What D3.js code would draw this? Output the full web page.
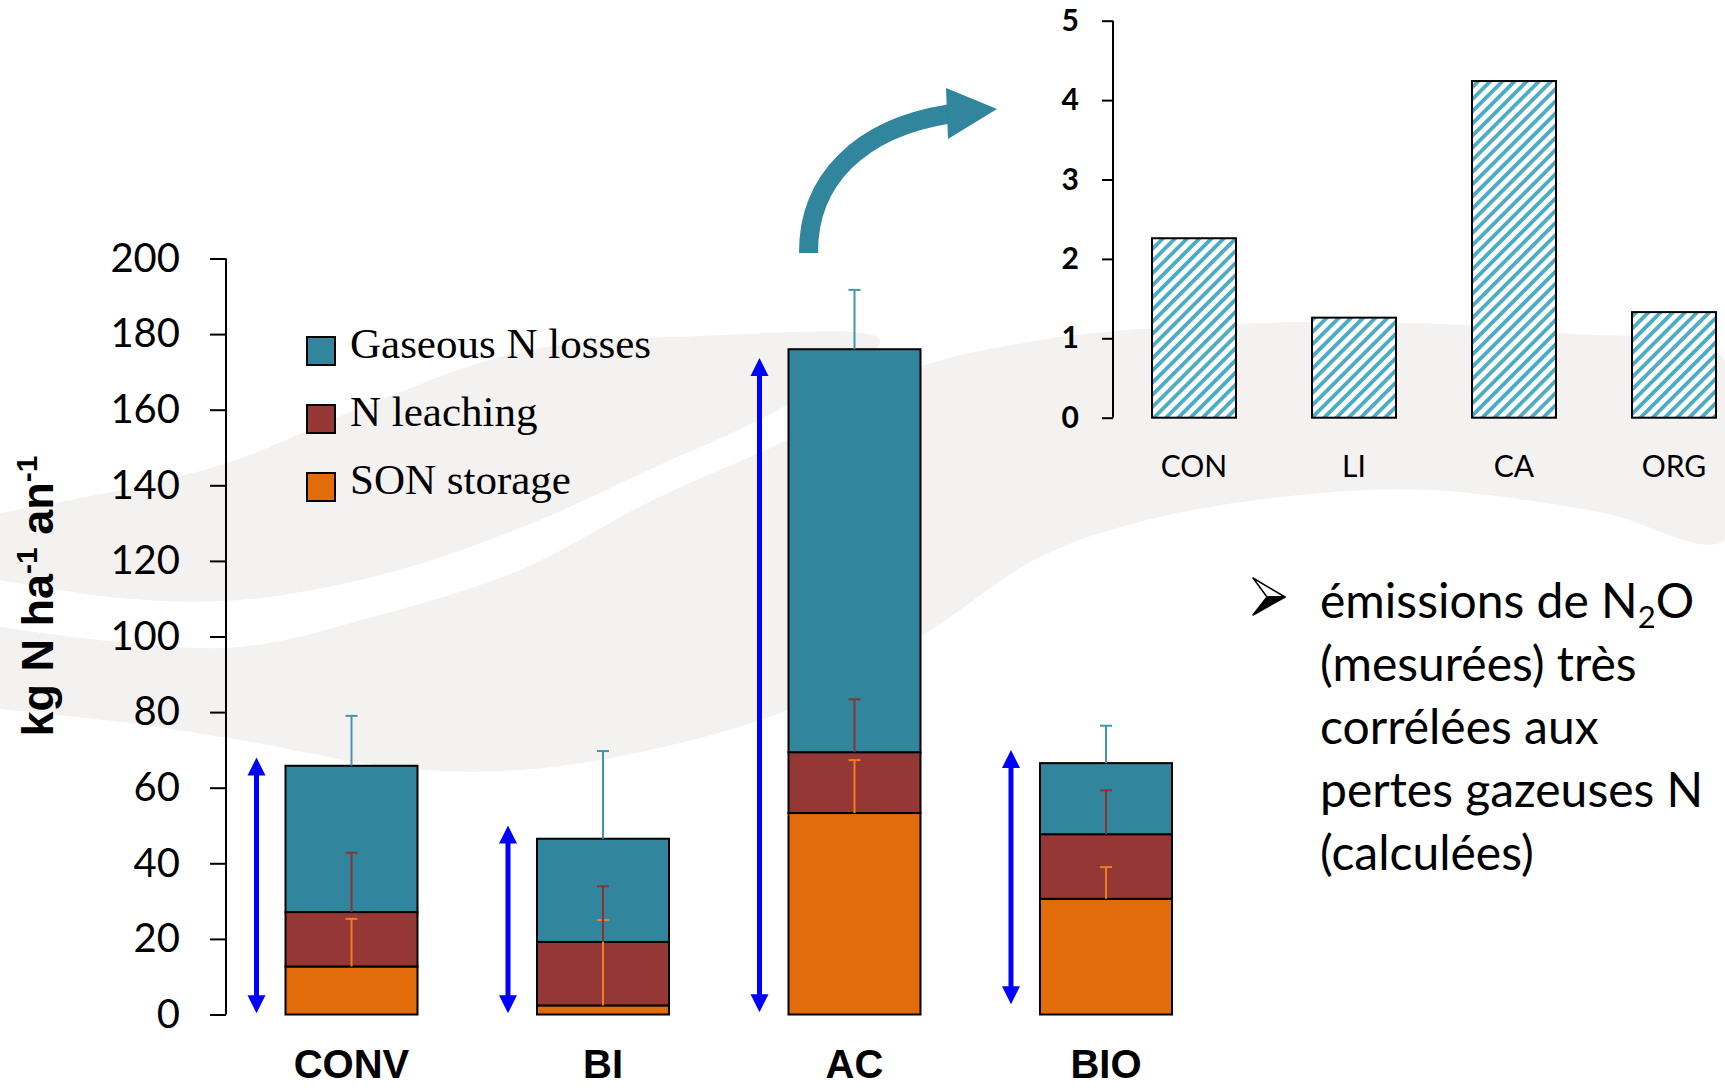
<!DOCTYPE html>
<html>
<head>
<meta charset="utf-8">
<script src="https://cdn.jsdelivr.net/npm/d3@7"></script>
<style>
  body { margin: 0; background: #fff; }
  svg { display: block; }
</style>
</head>
<body>
<script>
// main stacked chart data (kg N / ha / an)
var categories = ["CONV", "BI", "AC", "BIO"];
var seriesNames = ["Gaseous N losses", "N leaching", "SON storage"];
var sonStorage = [12.7, 2.4, 53.3, 30.6];
var nLeaching = [14.4, 16.8, 16.1, 17.1];
var gaseousLosses = [38.7, 27.3, 106.6, 18.8];
var errSon = [12.6, 22.6, 14.0, 8.4];
var errLeaching = [15.7, 14.7, 14.0, 11.6];
var errGaseous = [13.2, 23.2, 15.7, 9.9];
var arrowTop = [68, 50, 173.7, 70];
var arrowBottom = [0.3, 0.3, 0.6, 2.7];
var yTicks = [0, 20, 40, 60, 80, 100, 120, 140, 160, 180, 200];

// inset chart data (N2O)
var insetCategories = ["CON", "LI", "CA", "ORG"];
var n2oValues = [2.26, 1.26, 4.24, 1.33];
var insetTicks = [0, 1, 2, 3, 4, 5];

var noteLines = ["(mesurées) très", "corrélées aux", "pertes gazeuses N", "(calculées)"];

var colors = { gas: "#31859c", leach: "#953735", son: "#e36c0a" };
var errColors = { gas: "#4196ad", leach: "#8a3331", son: "#f07d1e" };

var W = 1725, H = 1088;
var svg = d3.select("body").append("svg")
  .attr("width", W)
  .attr("height", H);

// background swooshes
var bgLine = d3.line().curve(d3.curveCatmullRom.alpha(0.5));
var swooshA = [[0,513],[120,490],[230,462],[380,400],[520,352],[700,336],[880,340],
  [787,405],[653,468],[520,528],[380,575],[240,600],[120,598],[0,580]];
var swooshB = [[0,627],[120,642],[240,647],[380,615],[520,570],[653,500],[787,440],[880,390],
  [920,367],[1040,340],[1173,327],[1373,322],[1560,333],[1725,360],[1725,540],
  [1600,512],[1430,490],[1300,495],[1147,520],[1040,557],[920,637],[787,710],[650,750],
  [520,770],[400,768],[240,740],[120,722],[0,709]];
svg.append("path").attr("d", bgLine(swooshA) + "Z").attr("fill", "#f3f2f0");
svg.append("path").attr("d", bgLine(swooshB) + "Z").attr("fill", "#f3f2f0");

// ---------- main chart ----------
var y = d3.scaleLinear().domain([0, 200]).range([1014.5, 258.5]);
var x = d3.scalePoint().domain(categories).range([351.5, 1106]);
var barW = 132;

var table = categories.map(function (c, i) {
  return { cat: c, son: sonStorage[i], leach: nLeaching[i], gas: gaseousLosses[i],
    errson: errSon[i], errleach: errLeaching[i], errgas: errGaseous[i] };
});
var stack = d3.stack().keys(["son", "leach", "gas"]);
var layers = stack(table);

var g = svg.append("g");
layers.forEach(function (layer) {
  g.selectAll(null)
    .data(layer)
    .enter().append("rect")
    .attr("x", function (d) { return x(d.data.cat) - barW / 2; })
    .attr("y", function (d) { return y(d[1]); })
    .attr("width", barW)
    .attr("height", function (d) { return y(d[0]) - y(d[1]); })
    .attr("fill", colors[layer.key])
    .attr("stroke", "#000")
    .attr("stroke-width", 2);
});

// error bars (upper only)
layers.forEach(function (layer) {
  var k = layer.key;
  var eg = g.selectAll(null).data(layer).enter().append("g")
    .attr("stroke", errColors[k]).attr("stroke-width", 2);
  eg.append("line")
    .attr("x1", function (d) { return x(d.data.cat); })
    .attr("x2", function (d) { return x(d.data.cat); })
    .attr("y1", function (d) { return y(d[1]); })
    .attr("y2", function (d) { return y(d[1] + d.data["err" + k]); });
  eg.append("line")
    .attr("x1", function (d) { return x(d.data.cat) - 6; })
    .attr("x2", function (d) { return x(d.data.cat) + 6; })
    .attr("y1", function (d) { return y(d[1] + d.data["err" + k]); })
    .attr("y2", function (d) { return y(d[1] + d.data["err" + k]); });
});

// blue double arrows
var headL = 18, headW = 9;
categories.forEach(function (c, i) {
  var ax = x(c) - 95;
  var yt = y(arrowTop[i]), yb = y(arrowBottom[i]);
  svg.append("line")
    .attr("x1", ax).attr("x2", ax)
    .attr("y1", yt + headL - 1).attr("y2", yb - headL + 1)
    .attr("stroke", "#0000ff").attr("stroke-width", 5);
  svg.append("path")
    .attr("d", "M" + ax + "," + yt + "L" + (ax + headW) + "," + (yt + headL) + "L" + (ax - headW) + "," + (yt + headL) + "Z")
    .attr("fill", "#0000ff");
  svg.append("path")
    .attr("d", "M" + ax + "," + yb + "L" + (ax + headW) + "," + (yb - headL) + "L" + (ax - headW) + "," + (yb - headL) + "Z")
    .attr("fill", "#0000ff");
});

// y axis
var yAxis = svg.append("g")
  .attr("transform", "translate(226,0)")
  .call(d3.axisLeft(y).tickValues(yTicks).tickSize(16).tickPadding(30));
yAxis.select(".domain").attr("stroke", "#000").attr("stroke-width", 2).attr("d", "M0," + y(0) + "V" + y(200));
yAxis.selectAll(".tick line").attr("stroke", "#000").attr("stroke-width", 2);
yAxis.selectAll(".tick text")
  .attr("font-family", "Lato, 'Open Sans', sans-serif")
  .attr("font-size", 40)
  .attr("fill", "#000");

// x category labels
svg.selectAll(null)
  .data(categories)
  .enter().append("text")
  .attr("x", function (d) { return x(d); })
  .attr("y", 1078)
  .attr("text-anchor", "middle")
  .attr("font-family", "'Liberation Sans', Arial, sans-serif")
  .attr("font-weight", "bold")
  .attr("font-size", 40)
  .attr("fill", "#000")
  .text(function (d) { return d; });

// y title
var yt = svg.append("text")
  .attr("transform", "translate(53,596) rotate(-90)")
  .attr("text-anchor", "middle")
  .attr("font-family", "'Liberation Sans', Arial, sans-serif")
  .attr("font-weight", "bold")
  .attr("font-size", 45)
  .attr("fill", "#000");
yt.append("tspan").text("kg N ha");
yt.append("tspan").attr("font-size", 30).attr("baseline-shift", "super").text("-1");
yt.append("tspan").text(" an");
yt.append("tspan").attr("font-size", 30).attr("baseline-shift", "super").text("-1");

// legend
var legKeys = ["gas", "leach", "son"];
var leg = svg.selectAll(null)
  .data(seriesNames)
  .enter().append("g")
  .attr("transform", function (d, i) { return "translate(307," + (337 + i * 68) + ")"; });
leg.append("rect")
  .attr("width", 28).attr("height", 28)
  .attr("fill", function (d, i) { return colors[legKeys[i]]; })
  .attr("stroke", "#000").attr("stroke-width", 2);
leg.append("text")
  .attr("x", 43).attr("y", 21)
  .attr("font-family", "'Liberation Serif', 'Times New Roman', serif")
  .attr("font-size", 43)
  .attr("fill", "#000")
  .text(function (d) { return d; });

// ---------- inset chart ----------
var defs = svg.append("defs");
var pat = defs.append("pattern")
  .attr("id", "hatch")
  .attr("patternUnits", "userSpaceOnUse")
  .attr("width", 8.6).attr("height", 8.6)
  .attr("patternTransform", "rotate(45)");
pat.append("rect").attr("width", 8.6).attr("height", 8.6).attr("fill", "#fff");
pat.append("rect").attr("width", 3.8).attr("height", 8.6).attr("fill", "#4bacc6");

var yi = d3.scaleLinear().domain([0, 5]).range([417.7, 20.7]);
var xi = d3.scalePoint().domain(insetCategories).range([1194, 1674]);
var insetW = 84;

svg.selectAll(null)
  .data(n2oValues)
  .enter().append("rect")
  .attr("x", function (d, i) { return xi(insetCategories[i]) - insetW / 2; })
  .attr("y", function (d) { return yi(d); })
  .attr("width", insetW)
  .attr("height", function (d) { return yi(0) - yi(d); })
  .attr("fill", "url(#hatch)")
  .attr("stroke", "#000")
  .attr("stroke-width", 2);

var yiAxis = svg.append("g")
  .attr("transform", "translate(1113,0)")
  .call(d3.axisLeft(yi).tickValues(insetTicks).tickFormat(d3.format("d")).tickSize(11).tickPadding(23));
yiAxis.select(".domain").attr("stroke", "#000").attr("stroke-width", 2).attr("d", "M0," + yi(0) + "V" + yi(5));
yiAxis.selectAll(".tick line").attr("stroke", "#000").attr("stroke-width", 2);
yiAxis.selectAll(".tick text")
  .attr("font-family", "Lato, 'Open Sans', sans-serif")
  .attr("font-weight", "bold")
  .attr("font-size", 30)
  .attr("fill", "#000");

svg.selectAll(null)
  .data(insetCategories)
  .enter().append("text")
  .attr("x", function (d) { return xi(d); })
  .attr("y", 477)
  .attr("text-anchor", "middle")
  .attr("font-family", "Lato, 'Open Sans', sans-serif")
  .attr("font-size", 30)
  .attr("fill", "#000")
  .text(function (d) { return d; });

// curved teal arrow toward the inset
svg.append("path")
  .attr("d", "M808.5,253C808,180 860,128 949,114")
  .attr("fill", "none")
  .attr("stroke", "#31859c")
  .attr("stroke-width", 19);
svg.append("path")
  .attr("d", "M946,88L997,109L948,139Z")
  .attr("fill", "#31859c");

// ---------- note text ----------
// 3D arrowhead bullet: light upper half, dark lower half
svg.append("path")
  .attr("d", "M1253,578L1285,597L1267,597Z")
  .attr("fill", "#fff").attr("stroke", "#000").attr("stroke-width", 1.5)
  .attr("stroke-linejoin", "round");
svg.append("path")
  .attr("d", "M1267,597L1285,597L1253,615Z")
  .attr("fill", "#000").attr("stroke", "#000").attr("stroke-width", 1.5)
  .attr("stroke-linejoin", "round");

var noteFont = "Lato, 'Open Sans', sans-serif";
var l1 = svg.append("text")
  .attr("x", 1320).attr("y", 618)
  .attr("font-family", noteFont)
  .attr("font-size", 48)
  .attr("fill", "#000");
l1.append("tspan").text("émissions de N");
l1.append("tspan").attr("font-size", 31).attr("dy", 10).text("2");
l1.append("tspan").attr("dy", -10).text("O");
svg.selectAll(null)
  .data(noteLines)
  .enter().append("text")
  .attr("x", 1320)
  .attr("y", function (d, i) { return 618 + (i + 1) * 63; })
  .attr("font-family", noteFont)
  .attr("font-size", 48)
  .attr("fill", "#000")
  .text(function (d) { return d; });
</script>
</body>
</html>
